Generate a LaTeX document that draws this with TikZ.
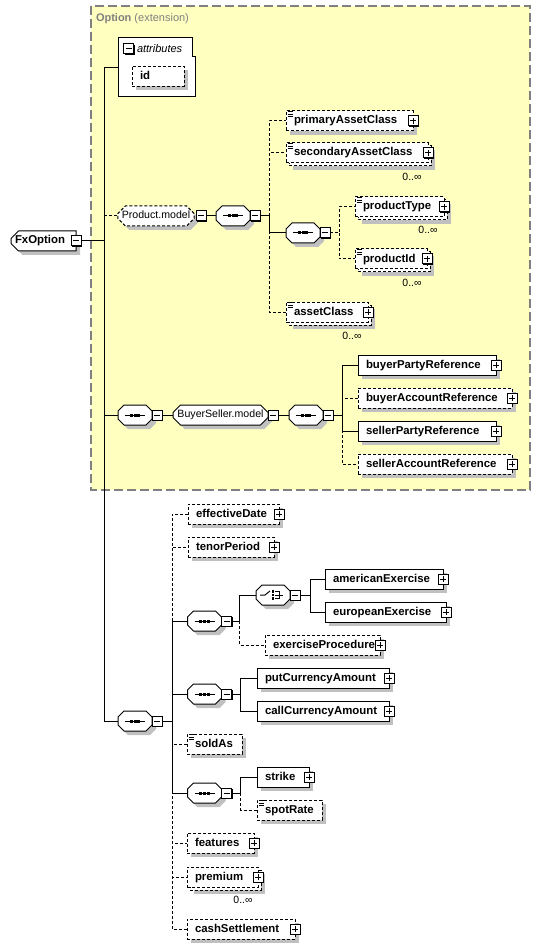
\documentclass[tikz,border=0pt]{standalone}
\usepackage{fontspec}
\setmainfont{Liberation Sans}
\usetikzlibrary{shapes.misc,shadows,calc}
\definecolor{yel}{RGB}{255,255,192}
\definecolor{shc}{RGB}{192,192,192}
\definecolor{bgray}{RGB}{128,128,128}
\newcommand\bfel{\fontsize{11.4pt}{13pt}\selectfont\bfseries}
\newcommand\rgel{\fontsize{10.6pt}{12pt}\selectfont}
\newcommand\smel{\fontsize{10.5pt}{12pt}\selectfont}
\newcommand\itel{\fontsize{11pt}{13pt}\selectfont\itshape}
\newcommand\hdel{\fontsize{11pt}{12pt}\selectfont}
\newcommand\compoutline[1]{%
  \draw[line width=1pt, fill=white, general shadow={fill=shc, shadow xshift=4pt, shadow yshift=-4pt}]
    ($(#1.north west)+(6,0)$) -- ($(#1.north east)+(-6,0)$) -- ($(#1.north east)+(0,6)$) -- ($(#1.south east)+(0,-6)$)
    -- ($(#1.south east)+(-6,0)$) -- ($(#1.south west)+(6,0)$) -- ($(#1.south west)+(0,-6)$) -- ($(#1.north west)+(0,6)$) -- cycle;}
\newcommand\seqicon[1]{%
  \compoutline{#1}
  \draw[line width=1pt] ($(#1.center)+(-10,0)$) -- ($(#1.center)+(10,0)$);
  \foreach \d in {-3.8,0,3.8} \fill ($(#1.center)+(\d-1.5,-1.5)$) rectangle ++(3,3);}
\newcommand\choiceicon[1]{%
  \compoutline{#1}
  \draw[line width=1pt] ($(#1.center)+(-13,0)$) -- ($(#1.center)+(-8,0)$) -- ($(#1.center)+(-3,-4)$);
  \foreach \d in {-3.6,0,3.6} \fill ($(#1.center)+(-1.3,\d-1.3)$) rectangle ++(2.6,2.6);
  \draw[line width=1pt] ($(#1.center)+(2,-3.6)$) -- ($(#1.center)+(6,-3.6)$) -- ($(#1.center)+(6,3.6)$) -- ($(#1.center)+(2,3.6)$)
    ($(#1.center)+(2,0)$) -- ($(#1.center)+(10,0)$);}
\newcommand\simic[1]{%
  \draw[line width=0.9pt] foreach \d in {0.8,3,5.2} {($(#1.north west)+(1.5,\d)$) -- ++(5,0)};}
\begin{document}
\begin{tikzpicture}[x=1pt,y=-1pt,
  every node/.style={inner sep=0pt, outer sep=0pt},
  ln/.style={line width=1pt},
  opt/.style={dash pattern=on 3pt off 2pt},
  shad/.style={general shadow={fill=shc, shadow xshift=4pt, shadow yshift=-4pt}},
  box/.style={rectangle, draw, fill=white, line width=1pt, minimum height=20pt, anchor=west,
    inner xsep=8pt, inner ysep=0pt, align=left, text height=8.5pt, text depth=2.5pt, font=\bfel, text width=#1},
  el/.style={box=#1, shad},
  oel/.style={box=#1, shad, opt},
  mel/.style={box=#1, opt},
  back/.style={draw, fill=white, line width=1pt, opt, shad},
  pm/.style={rectangle, draw, fill=white, line width=1pt, minimum size=10pt,
    general shadow={fill=black, shadow xshift=1pt, shadow yshift=-1pt}},
  plus/.style={pm, path picture={\draw[line width=1pt] ([xshift=-3pt]path picture bounding box.center) -- ([xshift=3pt]path picture bounding box.center)
      ([yshift=-3pt]path picture bounding box.center) -- ([yshift=3pt]path picture bounding box.center);}},
  minus/.style={pm, path picture={\draw[line width=1pt] ([xshift=-3pt]path picture bounding box.center) -- ([xshift=3pt]path picture bounding box.center);}},
  comp/.style={rectangle, minimum width=34pt, minimum height=20pt, inner sep=0pt},
  grp/.style={chamfered rectangle, chamfered rectangle xsep=4pt, draw, fill=white, line width=1pt, shad,
    minimum height=20pt, font=\rgel, inner sep=0pt, text height=8pt, text depth=2.5pt},
  mult/.style={font=\smel}
]
\useasboundingbox (0,0) rectangle (541,949);

% extension region
\draw[fill=yel, draw=bgray, line width=1.2pt, dash pattern=on 9pt off 4pt] (91,6) rectangle (530,490);
\node[anchor=west, text=bgray, font=\hdel] (opth) at (96,19) {\textbf{Option} (extension)};

% root
\node[chamfered rectangle, chamfered rectangle corners={north west,south west}, chamfered rectangle xsep=4pt,
  draw, fill=white, line width=1pt, shad, minimum width=65pt, minimum height=20pt, font=\bfel,
  inner xsep=0pt, inner ysep=0pt, text width=57pt, align=left, text height=8.5pt, text depth=2.5pt] (fx) at (43.5,241) {FxOption};
\node[minus] (fxm) at (fx.east) {};

% attributes
\node[minimum width=77pt, minimum height=59pt] (attr) at (156.5,67.5) {};
\draw[ln, fill=white] (attr.north west) -- ($(attr.north east)+(-3,0)$) -- ($(attr.north east)+(-3,19)$) -- ($(attr.north east)+(0,19)$) -- (attr.south east) -- (attr.south west) -- cycle;
\node[minus] (attrm) at (128.5,49) {};
\node[anchor=west, font=\itel] (attrt) at (137,49) {attributes};
\node[oel=36pt] (id) at (132,76.5) {id};

% Product.model
\node[grp, opt, minimum width=76pt] (grpP) at (156,216) {Product.model};
\node[minus, anchor=west] (grpPm) at ([xshift=2pt]grpP.east) {};
\node[comp] (seqP) at (233,216) {}; \seqicon{seqP}
\node[minus, anchor=west] (seqPm) at (seqP.east) {};
\node[oel=111pt] (pac) at (286,121) {primaryAssetClass}; \simic{pac}
\node[plus] (pacp) at (pac.east) {};
\draw[back] (289,146) rectangle (431,166);
\node[mel=126pt] (sac) at (286,153) {secondaryAssetClass}; \simic{sac}
\node[plus] (sacp) at (sac.east) {};
\node[mult] (sacn) at (412,177) {0..∞};
\node[comp] (seqPi) at (303,233) {}; \seqicon{seqPi}
\node[minus, anchor=west] (seqPim) at (seqPi.east) {};
\draw[back] (358,200) rectangle (447,220);
\node[mel=73pt] (ptype) at (355,207) {productType}; \simic{ptype}
\node[plus] (ptypep) at (ptype.east) {};
\node[mult] (ptypen) at (428,230) {0..∞};
\draw[back] (358,252) rectangle (430,272);
\node[mel=56pt] (pid) at (355,259) {productId}; \simic{pid}
\node[plus] (pidp) at (pid.east) {};
\node[mult] (pidn) at (412,283) {0..∞};
\draw[back] (289,305) rectangle (371,325);
\node[mel=66pt] (ac) at (286,312) {assetClass}; \simic{ac}
\node[plus] (acp) at (ac.east) {};
\node[mult] (acn) at (352,336) {0..∞};

% BuyerSeller.model
\node[comp] (seqB) at (135,415) {}; \seqicon{seqB}
\node[minus, anchor=west] (seqBm) at (seqB.east) {};
\node[grp, minimum width=95pt] (grpB) at (220.5,415) {BuyerSeller.model};
\node[minus, anchor=west] (grpBm) at (grpB.east) {};
\node[comp] (seqB2) at (306,415) {}; \seqicon{seqB2}
\node[minus, anchor=west] (seqB2m) at (seqB2.east) {};
\node[el=122pt] (bpr) at (358,365) {buyerPartyReference};
\node[plus] (bprp) at (bpr.east) {};
\node[oel=138pt] (bar) at (358,398) {buyerAccountReference};
\node[plus] (barp) at (bar.east) {};
\node[el=122pt] (spr) at (358,431) {sellerPartyReference};
\node[plus] (sprp) at (spr.east) {};
\node[oel=138pt] (sar) at (358,464) {sellerAccountReference};
\node[plus] (sarp) at (sar.east) {};

% main sequence
\node[comp] (seqM) at (135,721) {}; \seqicon{seqM}
\node[minus, anchor=west] (seqMm) at (seqM.east) {};
\node[oel=75pt] (ed) at (188,514) {effectiveDate};
\node[plus] (edp) at (ed.east) {};
\node[oel=70pt] (tp) at (188,547) {tenorPeriod};
\node[plus] (tpp) at (tp.east) {};
\node[comp] (seq1) at (204.5,621) {}; \seqicon{seq1}
\node[minus, anchor=west] (seq1m) at (seq1.east) {};
\node[comp] (ch) at (273,595) {}; \choiceicon{ch}
\node[minus, anchor=west] (chm) at (ch.east) {};
\node[el=102pt] (ae) at (325,579) {americanExercise};
\node[plus] (aep) at (ae.east) {};
\node[el=105pt] (ee) at (325,612) {europeanExercise};
\node[plus] (eep) at (ee.east) {};
\node[oel=99pt] (ep) at (265,645) {exerciseProcedure};
\node[plus] (epp) at (ep.east) {};
\node[comp] (seq2) at (204.5,694) {}; \seqicon{seq2}
\node[minus, anchor=west] (seq2m) at (seq2.east) {};
\node[el=116pt] (pca) at (257,678) {putCurrencyAmount};
\node[plus] (pcap) at (pca.east) {};
\node[el=116pt] (cca) at (257,711) {callCurrencyAmount};
\node[plus] (ccap) at (cca.east) {};
\node[oel=39pt] (sa) at (187,744) {soldAs}; \simic{sa}
\node[comp] (seq3) at (204.5,793) {}; \seqicon{seq3}
\node[minus, anchor=west] (seq3m) at (seq3.east) {};
\node[el=36pt] (st) at (257,777) {strike};
\node[plus] (stp) at (st.east) {};
\node[oel=49pt] (sr) at (257,810) {spotRate}; \simic{sr}
\node[oel=51pt] (fe) at (187,843) {features};
\node[plus] (fep) at (fe.east) {};
\draw[back] (190,870) rectangle (261,890);
\node[mel=55pt] (pr) at (187,877) {premium};
\node[plus] (prp) at (pr.east) {};
\node[mult] (prn) at (243,900) {0..∞};
\node[oel=92pt] (cs) at (187,929) {cashSettlement};
\node[plus] (csp) at (cs.east) {};

% junctions
\coordinate (J0) at ($(fxm.east)+(23,0)$);
\coordinate (jP) at ($(seqPm.east)+(9,0)$);
\coordinate (jPi) at ($(seqPim.east)+(9,0)$);
\coordinate (jB) at ($(seqB2m.east)+(9,0)$);
\coordinate (jM) at ($(seqMm.east)+(10,0)$);
\coordinate (j1) at ($(seq1m.east)+(8,0)$);
\coordinate (jC) at ($(chm.east)+(10,0)$);
\coordinate (j2) at ($(seq2m.east)+(9,0)$);
\coordinate (j3) at ($(seq3m.east)+(9,0)$);

% connectors: optional (dashed) first
\draw[ln,opt] (J0) |- (grpP.west);
\draw[ln,opt] (jP) |- (pac.west) (jP) |- (sac.west) (jP) |- (ac.west);
\draw[ln,opt] (seqPim.east) -- (jPi) |- (ptype.west) (jPi) |- (pid.west);
\draw[ln,opt] (jB) |- (bar.west) (jB) |- (sar.west);
\draw[ln,opt] (jM) |- (ed.west) (jM) |- (tp.west) (jM) |- (sa.west) (jM) |- (fe.west) (jM) |- (pr.west) (jM) |- (cs.west);
\draw[ln,opt] (j1) |- (ep.west);
\draw[ln,opt] (j3) |- (sr.west);
% required (solid)
\draw[ln] (fxm.east) -- (J0) |- (attr.west) (J0) |- (seqB.west) (J0) |- (seqM.west);
\draw[ln] (grpPm.east) -- (seqP.west);
\draw[ln] (seqPm.east) -- (jP) |- (seqPi.west);
\draw[ln] (seqBm.east) -- (grpB.west);
\draw[ln] (grpBm.east) -- (seqB2.west);
\draw[ln] (seqB2m.east) -- (jB) |- (bpr.west) (jB) |- (spr.west);
\draw[ln] (seqMm.east) -- (jM) |- (seq1.west) (jM) |- (seq2.west) (jM) |- (seq3.west);
\draw[ln] (seq1m.east) -- (j1) |- (ch.west);
\draw[ln] (chm.east) -- (jC) |- (ae.west) (jC) |- (ee.west);
\draw[ln] (seq2m.east) -- (j2) |- (pca.west) (j2) |- (cca.west);
\draw[ln] (seq3m.east) -- (j3) |- (st.west);
\end{tikzpicture}
\end{document}
